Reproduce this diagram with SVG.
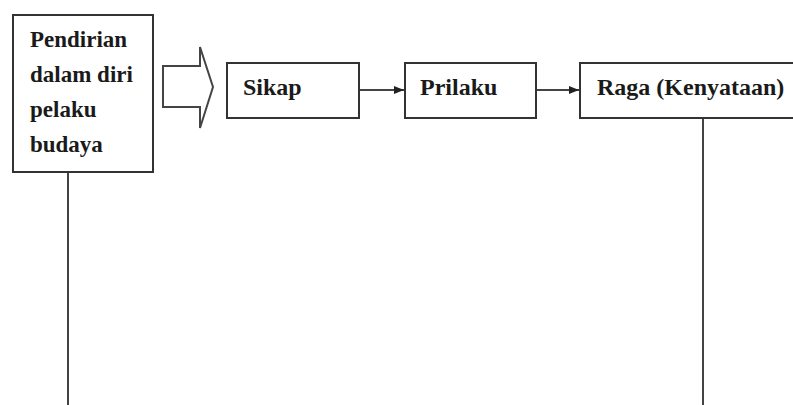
<svg xmlns="http://www.w3.org/2000/svg" width="793" height="405" viewBox="0 0 793 405">
<style>
.box{fill:#fff;stroke:#333;stroke-width:2}
.t{font-family:"Liberation Serif","Times New Roman",serif;font-weight:bold;fill:#1a1a1a}
.ln{stroke:#444;stroke-width:2;fill:none}
</style>
<defs>
<marker id="ah" markerWidth="10" markerHeight="8" refX="10" refY="4" orient="auto" markerUnits="userSpaceOnUse">
<path d="M0,0 L10,4 L0,8 Z" fill="#222"/>
</marker>
</defs>
<rect width="793" height="405" fill="#fff"/>
<g id="connectors">
<path class="ln" d="M163,66 L200,66 L200,47 L213,87 L200,128 L200,107 L163,107 Z" stroke-width="1.5"/>
<line class="ln" x1="360" y1="90" x2="404" y2="90" marker-end="url(#ah)"/>
<line class="ln" x1="537" y1="90" x2="579" y2="90" marker-end="url(#ah)"/>
<line class="ln" x1="68" y1="172" x2="68" y2="405"/>
<line class="ln" x1="703" y1="118" x2="703" y2="405"/>
</g>
<g id="node-pendirian">
<rect class="box" x="13" y="15" width="140" height="157"/>
<text class="t" font-size="23" x="30" y="47">Pendirian</text>
<text class="t" font-size="23" x="30" y="82">dalam diri</text>
<text class="t" font-size="23" x="30" y="117">pelaku</text>
<text class="t" font-size="23" x="30" y="152">budaya</text>
</g>
<g id="node-sikap">
<rect class="box" x="227" y="63" width="132" height="55"/>
<text class="t" font-size="24" x="243" y="95">Sikap</text>
</g>
<g id="node-prilaku">
<rect class="box" x="405" y="63" width="131" height="55"/>
<text class="t" font-size="24" x="420" y="95">Prilaku</text>
</g>
<g id="node-raga">
<rect class="box" x="580" y="63" width="230" height="55"/>
<text class="t" font-size="24" x="597" y="95">Raga (Kenyataan)</text>
</g>
</svg>
